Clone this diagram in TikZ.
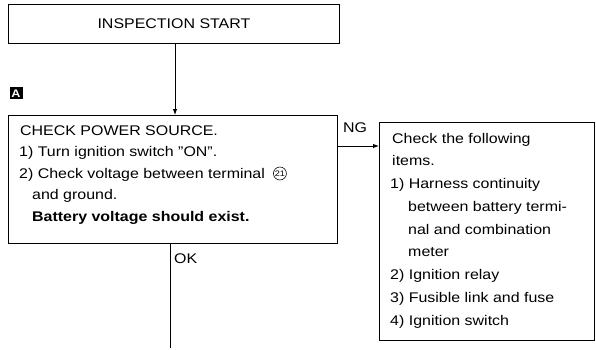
\documentclass[tikz,border=0pt]{standalone}
\usepackage{fontspec}
\setmainfont{Liberation Sans}[FakeStretch=1.14]
\usetikzlibrary{arrows.meta}
\begin{document}
\begin{tikzpicture}[x=1pt,y=-1pt,
  box/.style={draw, line width=0.9pt, inner sep=0pt, anchor=north west},
  txt/.style={anchor=base west, inner sep=0pt, font=\fontsize{14}{16}\selectfont},
  boldtxt/.style={txt, font=\fontsize{14}{16}\selectfont\bfseries},
  conn/.style={line width=0.9pt},
  arr/.style={conn, -{Latex[length=6pt,width=4.5pt]}},
  circnum/.style={circle, draw, line width=0.6pt, minimum size=13pt, inner sep=0pt, font=\fontsize{8}{8}\selectfont},
  tag/.style={fill=black, text=white, minimum width=13pt, minimum height=12pt, inner sep=0pt, font=\fontsize{11}{11}\selectfont\bfseries}]
\useasboundingbox (0,0) rectangle (596,350);

% boxes
\node[box, minimum width=331pt, minimum height=39pt, font=\fontsize{14}{16}\selectfont] (start) at (8,4) {INSPECTION START};
\node[box, minimum width=329pt, minimum height=128pt] (check) at (8,115) {};
\node[box, minimum width=215pt, minimum height=218pt] (items) at (379,122) {};

% tag A
\node[tag] (lblA) at (16,93.5) {A};

% check box text
\node[txt] (c1) at (20,135) {CHECK POWER SOURCE.};
\node[txt] (c2) at (19,156.5) {1) Turn ignition switch ''ON''.};
\node[txt] (c3) at (19,178) {2) Check voltage between terminal};
\node[circnum, anchor=west] (t21) at ([xshift=8pt,yshift=4.5pt]c3.base east) {21};
\node[txt] (c4) at (32,199.5) {and ground.};
\node[boldtxt] (c5) at (32,221) {Battery voltage should exist.};

% items box text
\node[txt] (i1) at (392,143) {Check the following};
\node[txt] (i2) at (392,165.7) {items.};
\node[txt] (i3) at (390,188.5) {1) Harness continuity};
\node[txt] (i4) at (408,211.2) {between battery termi-};
\node[txt] (i5) at (408,234) {nal and combination};
\node[txt] (i6) at (408,256.7) {meter};
\node[txt] (i7) at (390,279.5) {2) Ignition relay};
\node[txt] (i8) at (390,302.2) {3) Fusible link and fuse};
\node[txt] (i9) at (390,325) {4) Ignition switch};

% labels
\node[txt] (ng) at (343,132) {NG};
\node[txt] (ok) at (174,263) {OK};

% connectors
\coordinate (okend) at (170,348);
\draw[arr] (start.south -| 175,0) -- (check.north -| 175,0);
\draw[arr] (check.east |- 0,146) -- (items.west |- 0,146);
\draw[conn] (check.south -| okend) -- (okend);
\end{tikzpicture}
\end{document}
